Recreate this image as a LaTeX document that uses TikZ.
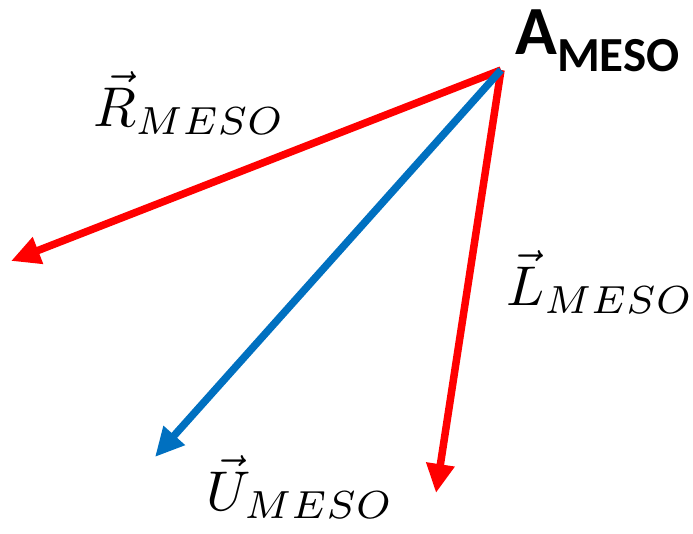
\documentclass[tikz,border=0pt]{standalone}
\usepackage{graphicx}
\usepackage{fontspec}
\newfontfamily\carlito{Carlito}
\usetikzlibrary{arrows.meta}
\definecolor{vred}{RGB}{255,0,0}
\definecolor{vblue}{RGB}{0,112,192}
\tikzset{
  vec/.style={line width=7.5pt, -{Triangle[length=29pt,width=27pt]}},
  mlabel/.style={inner sep=0pt},
}
\newcommand{\biglbl}[1]{\scalebox{5.6}{$#1$}}
\begin{document}
\begin{tikzpicture}[x=1pt,y=-1pt]
\useasboundingbox (0,0) rectangle (693,533);
\coordinate (o) at (501,70);
\coordinate (r) at (11,261);
\coordinate (l) at (436,493);
\coordinate (u) at (155,457);
\draw[vec, vred] (o) -- (r);
\draw[vec, vred] (o) -- (l);
\draw[vec, vblue] (o) -- (u);
\node[inner sep=0pt, anchor=base west] (a) at (515,54) {\carlito\bfseries\fontsize{69}{80}\selectfont A\raisebox{-17pt}{\fontsize{49}{60}\selectfont MESO}};
\node[mlabel, anchor=base west] (rl) at (93,126) {\biglbl{\vec{R}_{MESO}}};
\node[mlabel, anchor=base west] (ll) at (506,305) {\biglbl{\vec{L}_{MESO}}};
\node[mlabel, anchor=base west] (ul) at (206,510) {\biglbl{\vec{U}_{MESO}}};
\end{tikzpicture}
\end{document}
